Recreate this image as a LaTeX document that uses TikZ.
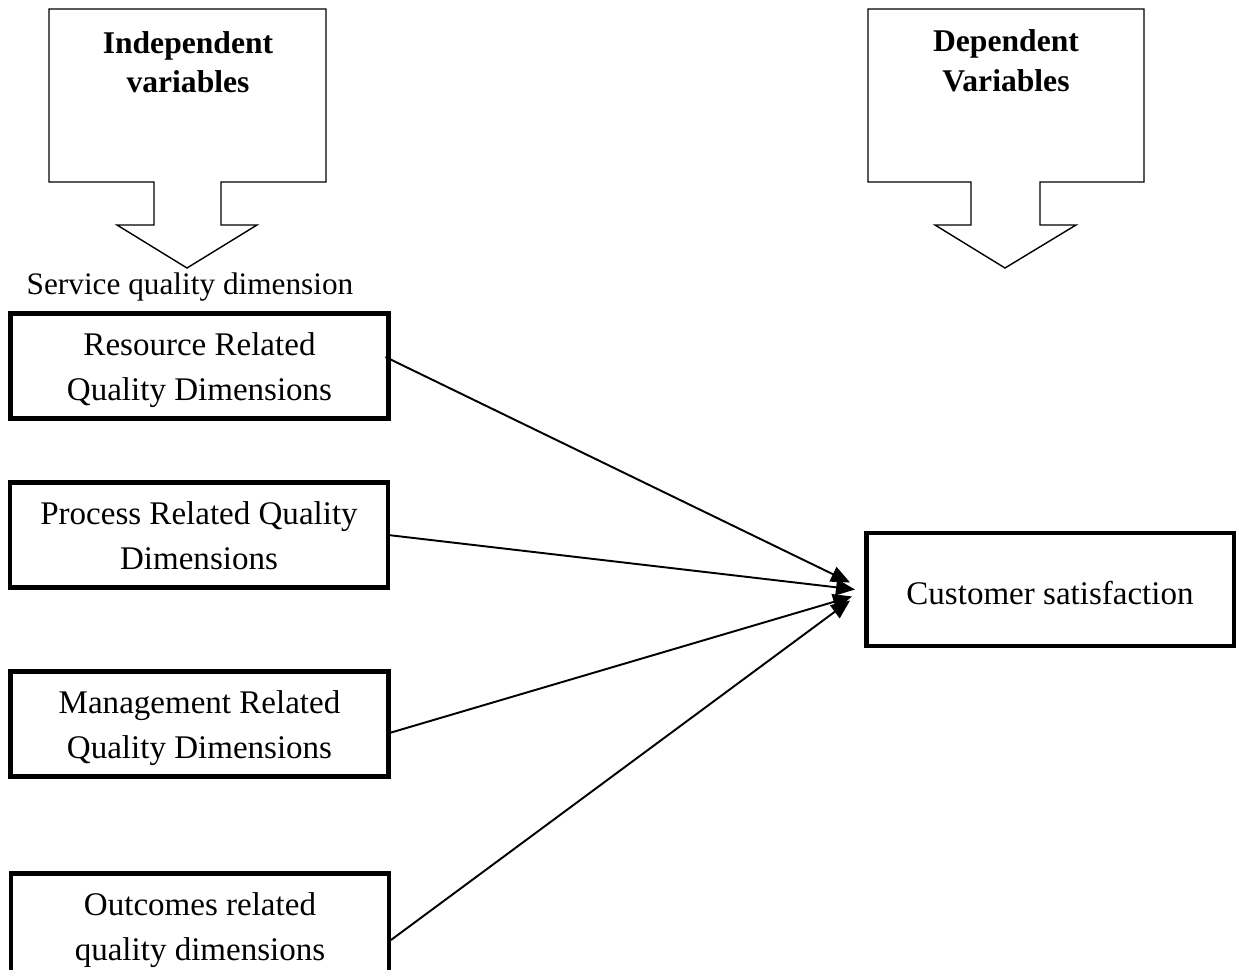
\documentclass[tikz,border=0pt]{standalone}
\usepackage{fontspec}
\setmainfont{Liberation Serif}
\usetikzlibrary{arrows.meta,positioning,calc}

\begin{document}
\begin{tikzpicture}[x=0.02cm, y=-0.02cm,
    dimbox/.style={draw, line width=2.8pt, minimum width=7.56cm, minimum height=2.1cm,
        align=center, inner sep=0pt, outer sep=0pt,
        font=\fontsize{18.8}{25.5}\selectfont, text height=43pt, text depth=4pt},
    headtxt/.style={align=center, font=\fontsize{18}{22.5}\selectfont\bfseries},
    callout/.style={draw, line width=0.8pt, line join=miter},
    link/.style={draw, line width=1.1pt, -{Triangle[length=0.38cm, width=0.32cm]}}]
    \useasboundingbox (0,0) rectangle (1242,970);

    % Draw the two heading callouts
    \draw[callout] (49,9) -- (326,9) -- (326,182) -- (221,182) -- (221,225) -- (257,225)
        -- (187,268) -- (117,225) -- (154,225) -- (154,182) -- (49,182) -- cycle;
    \node[headtxt] (indep) at (188,62) {Independent\\variables};

    \draw[callout] (868,9) -- (1144,9) -- (1144,182) -- (1040,182) -- (1040,225) -- (1076,225)
        -- (1005,268) -- (935,225) -- (971,225) -- (971,182) -- (868,182) -- cycle;
    \node[headtxt] (dep) at (1006,61) {Dependent\\Variables};

    \node[font=\fontsize{17.8}{22}\selectfont] (sqd) at (190,287) {Service quality dimension};

    % Draw the quality dimension boxes
    \node[dimbox] (res) at (199.5,366) {Resource Related\\Quality Dimensions};
    \node[dimbox] (proc) at (199,535) {Process Related Quality\\Dimensions};
    \node[dimbox] (mgmt) at (199.5,724) {Management Related\\Quality Dimensions};
    \node[dimbox] (out) at (200,926) {Outcomes related\\quality dimensions};

    % Dependent variable box
    \node[dimbox, minimum width=7.36cm, minimum height=2.26cm,
        text height=17.5pt, text depth=0pt] (cs) at (1050,589.5) {Customer satisfaction};

    % Draw the connections
    \draw[link] ($(res.east)+(-3,-9)$) -- ($(cs.west)+(-16,-7)$);
    \draw[link] (proc.east) -- ($(cs.west)+(-11,0)$);
    \draw[link] ($(mgmt.east)+(1,9)$) -- ($(cs.west)+(-14,7)$);
    \draw[link] ($(out.east)+(2,14)$) -- ($(cs.west)+(-16,11)$);
\end{tikzpicture}
\end{document}
